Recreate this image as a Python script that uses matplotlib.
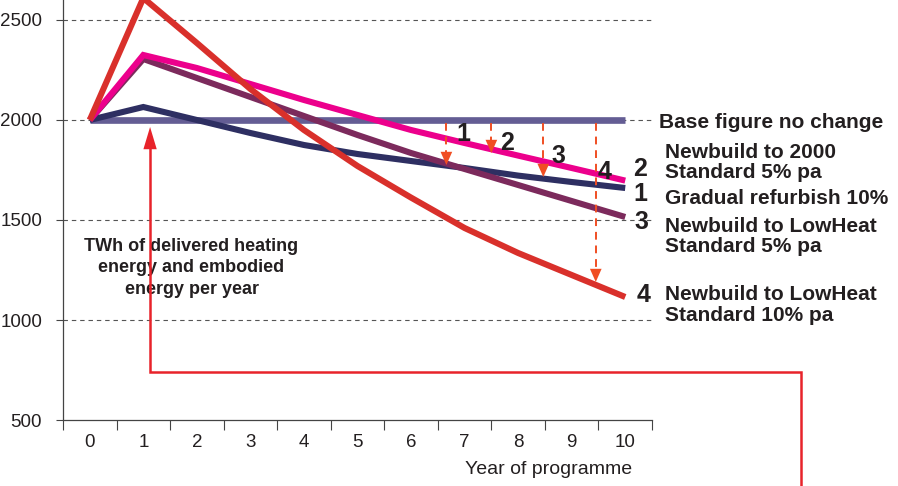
import numpy as np
import matplotlib
matplotlib.use("Agg")
import matplotlib.pyplot as plt
from matplotlib import font_manager

# scenario data, TWh per year
years = np.arange(0, 11)
base = [2000] * 11
refurbish = [2000, 2065, 2000, 1935, 1875, 1830, 1795, 1760, 1722, 1690, 1660]
newbuild_2000 = [2000, 2325, 2260, 2180, 2100, 2025, 1950, 1885, 1822, 1760, 1697]
lowheat_5 = [2000, 2305, 2210, 2115, 2020, 1925, 1835, 1755, 1675, 1595, 1515]
lowheat_10 = [2000, 2610, 2385, 2155, 1950, 1770, 1612, 1460, 1335, 1225, 1115]

# saving arrows: year, value at arrow tip, label
arrow_x = [6.66, 7.5, 8.47, 9.45]
arrow_tip = [1775, 1835, 1715, 1190]
arrow_lbl = ["1", "2", "3", "4"]

yticks = [500, 1000, 1500, 2000, 2500]

col_base = "#645d94"
col_ref = "#2e2f62"
col_nb = "#ec008c"
col_lh5 = "#7c2a5c"
col_lh10 = "#d9302b"
col_arrow = "#f04e23"
col_call = "#e8232a"
txt = "#231f20"

names = [f.name for f in font_manager.fontManager.ttflist]
narrow = "Liberation Sans Narrow" if "Liberation Sans Narrow" in names else "Liberation Sans"
plt.rcParams['font.family'] = ["Liberation Sans", "DejaVu Sans"]

fig = plt.figure(figsize=(8.98, 4.86), dpi=100)
ax = fig.add_axes([63/898, 66/486, (652-63)/898, 420/486])
ax.set_xlim(-0.5, 10.5)
ax.set_ylim(500, 2600)

for y in yticks[1:]:
    ax.axhline(y, color="#555555", lw=0.8, ls=(0, (4, 3.5)), zorder=1)

lw = 4.4
ax.plot(years, base, color=col_base, lw=lw+0.4, solid_capstyle="butt", zorder=2)
ax.plot(years, refurbish, color=col_ref, lw=lw, solid_capstyle="butt", solid_joinstyle="miter", zorder=3)
ax.plot(years, lowheat_5, color=col_lh5, lw=lw, solid_capstyle="butt", solid_joinstyle="miter", zorder=3)
ax.plot(years, newbuild_2000, color=col_nb, lw=lw, solid_capstyle="butt", solid_joinstyle="miter", zorder=4)
ax.plot(years, lowheat_10, color=col_lh10, lw=lw, solid_capstyle="butt", solid_joinstyle="miter", zorder=5,
        clip_on=False)

# dashed arrows showing the saving against the base figure
for x, tip, lbl in zip(arrow_x, arrow_tip, arrow_lbl):
    ax.plot([x, x], [1985, tip + 50], color=col_arrow, lw=1.4, ls=(0, (4, 3)), zorder=6)
    ax.annotate("", xy=(x, tip), xytext=(x, tip + 70),
                arrowprops=dict(arrowstyle="-|>,head_length=0.95,head_width=0.42",
                                color=col_arrow, lw=0, shrinkA=0, shrinkB=0), zorder=6)
lbl_pos = [(6.98, 1930), (7.8, 1885), (8.75, 1818), (9.62, 1740)]
for (lx, ly), lbl in zip(lbl_pos, arrow_lbl):
    ax.text(lx, ly, lbl, fontsize=18, fontweight="bold", color=txt, ha="center", va="center", zorder=7)

# axes styling
for s in ["top", "right"]:
    ax.spines[s].set_visible(False)
ax.spines["left"].set_color("#444444")
ax.spines["bottom"].set_color("#444444")
ax.spines["left"].set_linewidth(0.9)
ax.spines["bottom"].set_linewidth(0.9)
ax.set_yticks(yticks)
ax.set_yticklabels([str(v) for v in yticks], fontsize=13.5, color=txt)
ax.tick_params(axis="y", length=5, width=0.8, color="#444444", pad=10)
ax.set_xticks(years)
ax.set_xticklabels([str(v) for v in years], fontsize=13.5, color=txt, family=narrow)
ax.tick_params(axis="x", length=0, pad=10)
ax.set_xticks(np.arange(-0.5, 11, 1), minor=True)
ax.tick_params(axis="x", which="minor", length=7, width=0.8, color="#444444")
fig.text(632/898, 1 - 469/486, "Year of programme", fontsize=14, color=txt, family=narrow,
         ha="right", va="center")

ax.text(1.9, 1260, "TWh of delivered heating\nenergy and embodied\nenergy per year", fontsize=13,
        fontweight="bold", color=txt, ha="center", va="center", linespacing=1.32)

# scenario key on the right
kw = dict(fontsize=15, fontweight="bold", color=txt, va="center", transform=ax.transData, clip_on=False)
nkw = dict(fontsize=18, fontweight="bold", color=txt, va="center", ha="center", transform=ax.transData,
           clip_on=False)
def px(x):
    return (x - 63) / 53.5 - 0.5
def py(y):
    return 2600 - y * 5
ax.text(px(658), py(122), "Base figure no change", **kw)
ax.text(px(664), py(152), "Newbuild to 2000", **kw)
ax.text(px(664), py(172), "Standard 5% pa", **kw)
ax.text(px(640), py(169), "2", **nkw)
ax.text(px(664), py(199), "Gradual refurbish 10%", **kw)
ax.text(px(640), py(194), "1", **nkw)
ax.text(px(664), py(227), "Newbuild to LowHeat", **kw)
ax.text(px(664), py(247), "Standard 5% pa", **kw)
ax.text(px(641), py(222), "3", **nkw)
ax.text(px(664), py(295), "Newbuild to LowHeat", **kw)
ax.text(px(664), py(315), "Standard 10% pa", **kw)
ax.text(px(643), py(295), "4", **nkw)

# callout from the key down the page back up to year 1
ax.plot([px(800), px(800), px(150), px(150)], [py(490), py(372), py(372), py(148)],
        color=col_call, lw=1.8, clip_on=False, solid_joinstyle="miter", zorder=6)
ax.annotate("", xy=(px(150), py(127)), xytext=(px(150), py(152)),
            arrowprops=dict(arrowstyle="-|>,head_length=1.6,head_width=0.48", color=col_call, lw=0,
                            shrinkA=0, shrinkB=0), annotation_clip=False, zorder=6)

fig.savefig("out.png", dpi=100)
